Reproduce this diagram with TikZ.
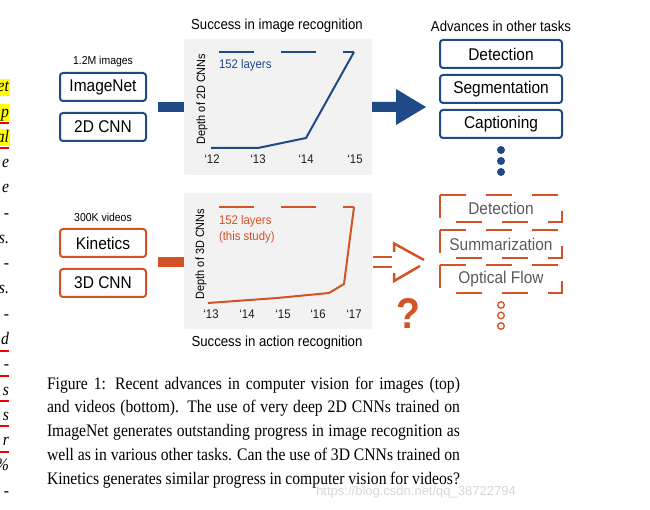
\documentclass[tikz,border=0pt]{standalone}
\usepackage{fontspec}
\setmainfont[FakeStretch=0.89]{Liberation Serif}
\newfontfamily\dsans[FakeStretch=0.91]{Liberation Sans}
\newfontfamily\wmfont{Liberation Sans}
\usetikzlibrary{calc}
\definecolor{cblue}{RGB}{31,73,135}
\definecolor{corange}{RGB}{211,82,38}
\definecolor{panelgray}{RGB}{242,242,242}
\definecolor{dgray}{RGB}{90,90,90}
\definecolor{tgray}{RGB}{30,30,30}
\definecolor{wmgray}{RGB}{215,215,215}
\definecolor{hlyellow}{RGB}{255,255,0}
\definecolor{ulred}{RGB}{240,0,0}
\newcommand\fsz[1]{\fontsize{#1}{#1}\selectfont}
\tikzset{
  every node/.style={inner sep=0pt, outer sep=0pt},
  panel/.style={fill=panelgray, rounded corners=2pt, minimum width=188pt, minimum height=136pt},
  solidbox/.style={draw=#1, line width=2pt, rounded corners=3pt, minimum width=86pt, minimum height=28pt, font=\dsans\fsz{17}, text=black},
  taskbox/.style={draw=cblue, line width=2pt, rounded corners=3pt, minimum width=122pt, minimum height=28pt, font=\dsans\fsz{17}, text=black},
  dashlabel/.style={minimum width=122pt, minimum height=27.5pt, font=\dsans\fsz{17}, text=dgray},
  dashedge/.style={draw=corange, line width=2.3pt, dash pattern=on 26pt off 20pt},
  titletext/.style={font=\dsans\fsz{14.5}, text=black},
  smalllabel/.style={font=\dsans\fsz{11.5}, text=black},
  ticklabel/.style={font=\dsans\fsz{12.5}, text=tgray},
  axlabel/.style={font=\dsans\fsz{12}, rotate=90, text=black},
  chartline/.style={line width=2pt, line join=round},
  dashline/.style={line width=2pt, dash pattern=on 35pt off 27pt},
  frag/.style={anchor=base east, font=\itshape\fsz{17.6}},
  orangeseg/.style={draw=corange, line width=2.5pt},
}
\begin{document}
\begin{tikzpicture}[x=1pt,y=-1pt]
\useasboundingbox (0,0) rectangle (650,510);

% --- fragments of the neighbouring column (left edge)
\foreach \i in {0,1,2} {
  \fill[hlyellow] (0,{88+25.25*\i-9}) rectangle (9.5,{88+25.25*\i+8});
}
\foreach \i/\t in {0/et,1/p,2/al,3/e,4/e,5/-,6/s.,7/-,8/s.,9/-,10/d,11/-,12/s,13/s,14/r,15/\%,16/-} {
  \node[frag] (frag\i) at (9,{92+25.25*\i}) {\t};
}
\foreach \i in {1,2,10,11,12,13,14} {
  \fill[ulred] (0,{88+25.25*\i+9}) rectangle (8.5,{88+25.25*\i+11});
}

% --- titles
\node[titletext] (t1) at (277,26) {Success in image recognition};
\node[titletext] (t2) at (501,26) {Advances in other tasks};
\node[titletext] (t3) at (277,343) {Success in action recognition};

% --- left boxes
\node[smalllabel] (lab12m) at (103,62) {1.2M images};
\node[solidbox=cblue] (imgnet) at (103,87) {ImageNet};
\node[solidbox=cblue] (cnn2d) at (103,127) {2D CNN};
\node[smalllabel] (lab300k) at (103,217) {300K videos};
\node[solidbox=corange] (kin) at (103,243) {Kinetics};
\node[solidbox=corange] (cnn3d) at (103,283) {3D CNN};

% --- panels
\node[panel] (p1) at (278,107) {};
\node[panel] (p2) at (278,261) {};

% --- bars into panels
\fill[cblue] ($(p1.west)+(-26,-5)$) rectangle ($(p1.west)+(0,5)$);
\fill[corange] ($(p2.west)+(-26,-4)$) rectangle ($(p2.west)+(0,6)$);

% --- top chart
\node[axlabel] (ax1) at (202,99) {Depth of 2D CNNs};
\draw[cblue, dashline] (219,52) -- (354,52);
\draw[cblue, chartline] (354,52) -- (306,138) -- (258,148) -- (211,148);
\node[anchor=west, font=\dsans\fsz{12.5}, text=cblue] (l1) at (219,65) {152 layers};
\foreach \x/\t in {212/12,258/13,306/14,355/15} {
  \node[ticklabel] at (\x,159) {‘\t};
}

% --- bottom chart
\node[axlabel] (ax2) at (201,254) {Depth of 3D CNNs};
\draw[corange, dashline] (219,207) -- (354,207);
\draw[corange, chartline] (354,207) -- (344,284) -- (329,293) -- (277,298) -- (208,303);
\node[anchor=west, font=\dsans\fsz{12.5}, text=corange] (l2) at (219,221) {152 layers};
\node[anchor=west, font=\dsans\fsz{12.5}, text=corange] (l3) at (219,237) {(this study)};
\foreach \x/\t in {211/13,247/14,283/15,318/16,354/17} {
  \node[ticklabel] at (\x,314) {‘\t};
}

% --- task boxes (top)
\node[taskbox] (det) at (501,54) {Detection};
\node[taskbox] (seg) at (501,89) {Segmentation};
\node[taskbox] (capt) at (501,124) {Captioning};
\foreach \y in {150,161,172} { \fill[cblue] (501,\y) circle (4pt); }

% --- blue arrow
\fill[cblue] ($(p1.east)+(0,-5)$) -- ++(24,0) -- ++(0,-13) -- ++(30,18) -- ++(-30,18) -- ++(0,-13) -- ++(-24,0) -- cycle;

% --- task boxes (bottom, dashed)
\node[dashlabel] (ddet) at (501,208.5) {Detection};
\node[dashlabel] (dsum) at (501,244) {Summarization};
\node[dashlabel] (dof) at (501,279) {Optical Flow};
\foreach \n in {ddet,dsum,dof} {
  \draw[dashedge] (\n.north west) -- (\n.north east) -- (\n.south east) -- (\n.south west) -- cycle;
}
\foreach \y in {305,315.5,326} { \draw[corange, line width=1.3pt] (501,\y) circle (3.3pt); }

% --- orange dashed arrow
\draw[orangeseg] ($(p2.east)+(1,-4)$) -- ++(19,0);
\draw[orangeseg] ($(p2.east)+(1,6)$) -- ++(19,0);
\draw[orangeseg, line join=miter] (394,252) -- (394,243.5) -- (424,260);
\draw[orangeseg, line join=miter] (420,266) -- (394,281) -- (394,273);
\node[font=\dsans\bfseries\fsz{43}, text=corange] (qm) at (408,313) {?};

% --- caption
\node[anchor=base west] (caption) at (47,389) {\parbox[t]{413pt}{\fontsize{17.6}{23.75}\selectfont\noindent\parfillskip=0pt
Figure 1:  Recent advances in computer vision for images (top)\linebreak
and videos (bottom).  The use of very deep 2D CNNs trained on\linebreak
ImageNet generates outstanding progress in image recognition as\linebreak
well as in various other tasks. Can the use of 3D CNNs trained on\linebreak
Kinetics generates similar progress in computer vision for videos?}};

% --- watermark
\node[font=\wmfont\fsz{13}, text=wmgray] (wm) at (416,492) {https://blog.csdn.net/qq\_38722794};
\end{tikzpicture}
\end{document}
